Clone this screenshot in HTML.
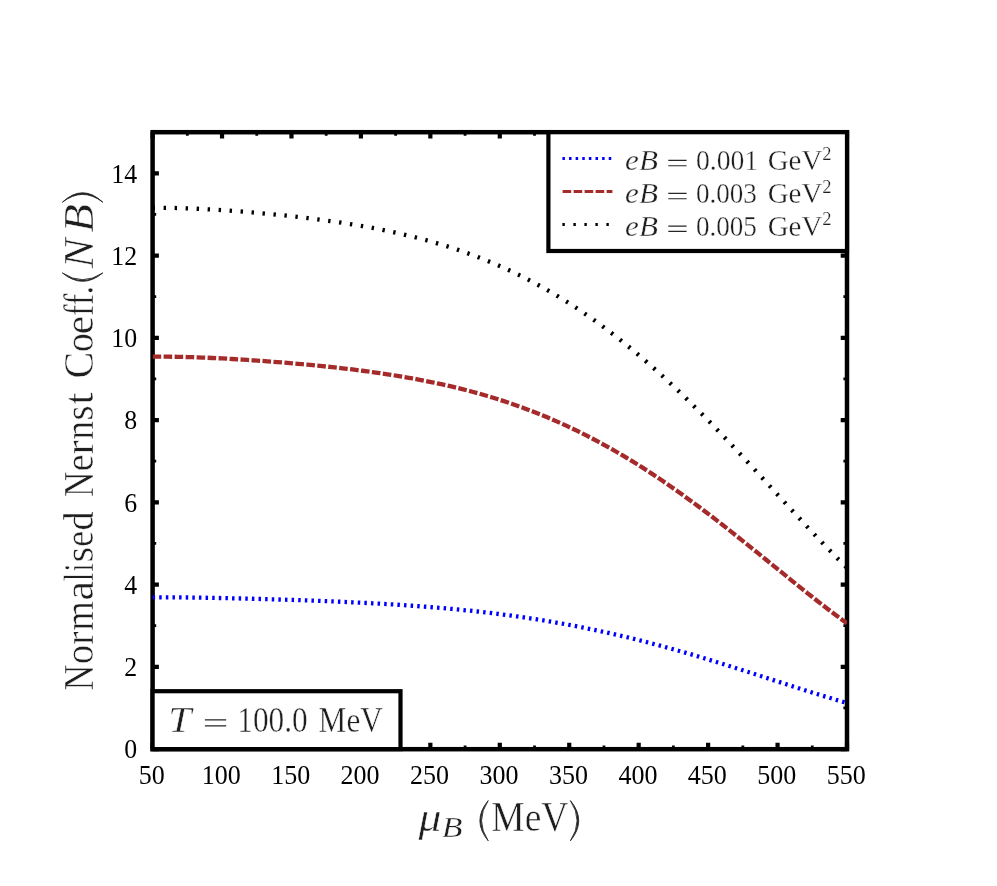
<!DOCTYPE html>
<html><head><meta charset="utf-8"><title>Normalised Nernst Coefficient</title>
<style>html,body{margin:0;padding:0;background:#fff}body{width:997px;height:886px;overflow:hidden}svg{display:block;will-change:transform}text{font-family:"Liberation Serif",serif}.tk{font-size:25.7px;fill:#000}.tx{fill:#1e1e1e;stroke:#fff}.it{font-style:italic}</style></head><body>
<svg width="997" height="886" viewBox="0 0 997 886">
<rect width="997" height="886" fill="#fff"/>
<defs><clipPath id="ax"><rect x="152.60" y="132.20" width="694.40" height="616.90"/></clipPath></defs>
<path d="M152.60 749.10v-6.30 M152.60 132.20v6.30 M222.04 749.10v-6.30 M222.04 132.20v6.30 M291.48 749.10v-6.30 M291.48 132.20v6.30 M360.92 749.10v-6.30 M360.92 132.20v6.30 M430.36 749.10v-6.30 M430.36 132.20v6.30 M499.80 749.10v-6.30 M499.80 132.20v6.30 M569.24 749.10v-6.30 M569.24 132.20v6.30 M638.68 749.10v-6.30 M638.68 132.20v6.30 M708.12 749.10v-6.30 M708.12 132.20v6.30 M777.56 749.10v-6.30 M777.56 132.20v6.30 M847.00 749.10v-6.30 M847.00 132.20v6.30 M152.60 749.10h6.30 M847.00 749.10h-6.30 M152.60 666.85h6.30 M847.00 666.85h-6.30 M152.60 584.59h6.30 M847.00 584.59h-6.30 M152.60 502.34h6.30 M847.00 502.34h-6.30 M152.60 420.09h6.30 M847.00 420.09h-6.30 M152.60 337.83h6.30 M847.00 337.83h-6.30 M152.60 255.58h6.30 M847.00 255.58h-6.30 M152.60 173.33h6.30 M847.00 173.33h-6.30" stroke="#000" stroke-width="4.20" fill="none"/>
<path d="M187.32 749.10v-3.60 M187.32 132.20v3.60 M256.76 749.10v-3.60 M256.76 132.20v3.60 M326.20 749.10v-3.60 M326.20 132.20v3.60 M395.64 749.10v-3.60 M395.64 132.20v3.60 M465.08 749.10v-3.60 M465.08 132.20v3.60 M534.52 749.10v-3.60 M534.52 132.20v3.60 M603.96 749.10v-3.60 M603.96 132.20v3.60 M673.40 749.10v-3.60 M673.40 132.20v3.60 M742.84 749.10v-3.60 M742.84 132.20v3.60 M812.28 749.10v-3.60 M812.28 132.20v3.60 M152.60 707.97h3.60 M847.00 707.97h-3.60 M152.60 625.72h3.60 M847.00 625.72h-3.60 M152.60 543.47h3.60 M847.00 543.47h-3.60 M152.60 461.21h3.60 M847.00 461.21h-3.60 M152.60 378.96h3.60 M847.00 378.96h-3.60 M152.60 296.71h3.60 M847.00 296.71h-3.60 M152.60 214.45h3.60 M847.00 214.45h-3.60" stroke="#000" stroke-width="2.80" fill="none"/>
<rect x="152.60" y="132.20" width="694.40" height="617.00" fill="none" stroke="#000" stroke-width="4.50"/>
<g clip-path="url(#ax)" fill="none" stroke-width="4.30">
<path d="M152.60 597.30 L157.60 597.30 L162.59 597.31 L167.59 597.32 L172.58 597.35 L177.58 597.39 L182.57 597.44 L187.57 597.49 L192.57 597.56 L197.56 597.63 L202.56 597.70 L207.55 597.79 L212.55 597.88 L217.54 597.97 L222.54 598.07 L227.54 598.18 L232.53 598.29 L237.53 598.40 L242.52 598.52 L247.52 598.64 L252.51 598.77 L257.51 598.90 L262.51 599.04 L267.50 599.18 L272.50 599.33 L277.49 599.47 L282.49 599.63 L287.48 599.78 L292.48 599.95 L297.47 600.11 L302.47 600.28 L307.47 600.46 L312.46 600.64 L317.46 600.82 L322.45 601.01 L327.45 601.21 L332.44 601.41 L337.44 601.62 L342.44 601.84 L347.43 602.06 L352.43 602.29 L357.42 602.53 L362.42 602.77 L367.41 603.02 L372.41 603.29 L377.41 603.56 L382.40 603.84 L387.40 604.12 L392.39 604.42 L397.39 604.73 L402.38 605.06 L407.38 605.39 L412.38 605.73 L417.37 606.09 L422.37 606.46 L427.36 606.84 L432.36 607.24 L437.35 607.65 L442.35 608.07 L447.35 608.51 L452.34 608.97 L457.34 609.44 L462.33 609.92 L467.33 610.43 L472.32 610.95 L477.32 611.49 L482.32 612.04 L487.31 612.62 L492.31 613.21 L497.30 613.82 L502.30 614.45 L507.29 615.10 L512.29 615.77 L517.28 616.46 L522.28 617.17 L527.28 617.91 L532.27 618.66 L537.27 619.44 L542.26 620.23 L547.26 621.05 L552.25 621.90 L557.25 622.76 L562.25 623.65 L567.24 624.56 L572.24 625.49 L577.23 626.45 L582.23 627.43 L587.22 628.43 L592.22 629.45 L597.22 630.50 L602.21 631.57 L607.21 632.67 L612.20 633.79 L617.20 634.93 L622.19 636.10 L627.19 637.28 L632.19 638.49 L637.18 639.73 L642.18 640.98 L647.17 642.26 L652.17 643.56 L657.16 644.88 L662.16 646.22 L667.16 647.58 L672.15 648.96 L677.15 650.36 L682.14 651.78 L687.14 653.21 L692.13 654.67 L697.13 656.14 L702.13 657.63 L707.12 659.13 L712.12 660.65 L717.11 662.19 L722.11 663.73 L727.10 665.29 L732.10 666.86 L737.09 668.44 L742.09 670.02 L747.09 671.62 L752.08 673.22 L757.08 674.83 L762.07 676.44 L767.07 678.06 L772.06 679.67 L777.06 681.29 L782.06 682.90 L787.05 684.51 L792.05 686.12 L797.04 687.72 L802.04 689.31 L807.03 690.90 L812.03 692.47 L817.03 694.02 L822.02 695.56 L827.02 697.09 L832.01 698.59 L837.01 700.07 L842.00 701.53 L847.00 702.96" stroke="#0000ff" stroke-dasharray="2.5 4.12"/>
<path d="M152.60 356.69 L157.60 356.66 L162.59 356.65 L167.59 356.68 L172.58 356.73 L177.58 356.81 L182.57 356.92 L187.57 357.04 L192.57 357.19 L197.56 357.36 L202.56 357.55 L207.55 357.76 L212.55 357.98 L217.54 358.22 L222.54 358.47 L227.54 358.74 L232.53 359.02 L237.53 359.32 L242.52 359.62 L247.52 359.94 L252.51 360.28 L257.51 360.62 L262.51 360.98 L267.50 361.34 L272.50 361.72 L277.49 362.11 L282.49 362.51 L287.48 362.92 L292.48 363.35 L297.47 363.78 L302.47 364.23 L307.47 364.69 L312.46 365.16 L317.46 365.65 L322.45 366.15 L327.45 366.67 L332.44 367.20 L337.44 367.75 L342.44 368.31 L347.43 368.89 L352.43 369.49 L357.42 370.11 L362.42 370.75 L367.41 371.41 L372.41 372.09 L377.41 372.79 L382.40 373.52 L387.40 374.27 L392.39 375.04 L397.39 375.85 L402.38 376.68 L407.38 377.54 L412.38 378.42 L417.37 379.34 L422.37 380.29 L427.36 381.27 L432.36 382.29 L437.35 383.34 L442.35 384.43 L447.35 385.55 L452.34 386.71 L457.34 387.92 L462.33 389.16 L467.33 390.44 L472.32 391.76 L477.32 393.13 L482.32 394.54 L487.31 396.00 L492.31 397.50 L497.30 399.06 L502.30 400.65 L507.29 402.30 L512.29 404.00 L517.28 405.75 L522.28 407.55 L527.28 409.40 L532.27 411.30 L537.27 413.26 L542.26 415.27 L547.26 417.34 L552.25 419.46 L557.25 421.64 L562.25 423.88 L567.24 426.17 L572.24 428.52 L577.23 430.92 L582.23 433.38 L587.22 435.91 L592.22 438.48 L597.22 441.12 L602.21 443.82 L607.21 446.57 L612.20 449.38 L617.20 452.25 L622.19 455.18 L627.19 458.16 L632.19 461.20 L637.18 464.29 L642.18 467.44 L647.17 470.65 L652.17 473.91 L657.16 477.22 L662.16 480.58 L667.16 484.00 L672.15 487.46 L677.15 490.98 L682.14 494.54 L687.14 498.14 L692.13 501.79 L697.13 505.49 L702.13 509.22 L707.12 513.00 L712.12 516.81 L717.11 520.66 L722.11 524.54 L727.10 528.45 L732.10 532.38 L737.09 536.35 L742.09 540.33 L747.09 544.34 L752.08 548.37 L757.08 552.41 L762.07 556.46 L767.07 560.51 L772.06 564.58 L777.06 568.64 L782.06 572.70 L787.05 576.75 L792.05 580.80 L797.04 584.83 L802.04 588.83 L807.03 592.82 L812.03 596.78 L817.03 600.70 L822.02 604.59 L827.02 608.43 L832.01 612.23 L837.01 615.97 L842.00 619.65 L847.00 623.27" stroke="#a52a2a" stroke-dasharray="8.6 2.4"/>
<path d="M152.60 207.74 L157.60 207.74 L162.59 207.77 L167.59 207.83 L172.58 207.92 L177.58 208.04 L182.57 208.18 L187.57 208.36 L192.57 208.55 L197.56 208.77 L202.56 209.02 L207.55 209.28 L212.55 209.56 L217.54 209.86 L222.54 210.18 L227.54 210.52 L232.53 210.87 L237.53 211.24 L242.52 211.62 L247.52 212.02 L252.51 212.44 L257.51 212.87 L262.51 213.32 L267.50 213.78 L272.50 214.26 L277.49 214.76 L282.49 215.27 L287.48 215.79 L292.48 216.34 L297.47 216.90 L302.47 217.48 L307.47 218.08 L312.46 218.70 L317.46 219.33 L322.45 219.99 L327.45 220.67 L332.44 221.37 L337.44 222.10 L342.44 222.85 L347.43 223.63 L352.43 224.43 L357.42 225.26 L362.42 226.12 L367.41 227.01 L372.41 227.93 L377.41 228.88 L382.40 229.87 L387.40 230.89 L392.39 231.95 L397.39 233.05 L402.38 234.18 L407.38 235.36 L412.38 236.58 L417.37 237.84 L422.37 239.14 L427.36 240.49 L432.36 241.89 L437.35 243.33 L442.35 244.83 L447.35 246.38 L452.34 247.98 L457.34 249.63 L462.33 251.34 L467.33 253.11 L472.32 254.93 L477.32 256.81 L482.32 258.75 L487.31 260.76 L492.31 262.83 L497.30 264.96 L502.30 267.15 L507.29 269.41 L512.29 271.74 L517.28 274.14 L522.28 276.61 L527.28 279.14 L532.27 281.75 L537.27 284.43 L542.26 287.18 L547.26 290.01 L552.25 292.91 L557.25 295.88 L562.25 298.93 L567.24 302.05 L572.24 305.25 L577.23 308.52 L582.23 311.88 L587.22 315.30 L592.22 318.81 L597.22 322.39 L602.21 326.05 L607.21 329.78 L612.20 333.59 L617.20 337.47 L622.19 341.44 L627.19 345.47 L632.19 349.58 L637.18 353.76 L642.18 358.02 L647.17 362.35 L652.17 366.74 L657.16 371.21 L662.16 375.75 L667.16 380.35 L672.15 385.02 L677.15 389.75 L682.14 394.54 L687.14 399.39 L692.13 404.30 L697.13 409.27 L702.13 414.29 L707.12 419.36 L712.12 424.48 L717.11 429.65 L722.11 434.86 L727.10 440.11 L732.10 445.40 L737.09 450.72 L742.09 456.07 L747.09 461.45 L752.08 466.86 L757.08 472.28 L762.07 477.72 L767.07 483.17 L772.06 488.62 L777.06 494.08 L782.06 499.53 L787.05 504.98 L792.05 510.42 L797.04 515.84 L802.04 521.23 L807.03 526.60 L812.03 531.93 L817.03 537.22 L822.02 542.47 L827.02 547.66 L832.01 552.80 L837.01 557.86 L842.00 562.86 L847.00 567.77" stroke="#000" stroke-dasharray="2.4 8.61"/>
</g>
<rect x="548.40" y="132.20" width="298.60" height="118.80" fill="#fff" stroke="#000" stroke-width="4.20"/>
<rect x="152.60" y="691.20" width="247.90" height="57.90" fill="#fff" stroke="#000" stroke-width="4.20"/>
<g fill="none" stroke-width="3.00">
<path d="M562.4 158.6H611.6" stroke="#0000ff" stroke-dasharray="2.5 4.12"/>
<path d="M562.6 191.5H612.4" stroke="#a52a2a" stroke-dasharray="8.6 2.4"/>
<path d="M562.4 224.6H611.6" stroke="#000" stroke-dasharray="2.4 8.6"/>
</g>
<text x="625.14" y="170.00" font-size="29.50" stroke-width="0.34" textLength="32.86" lengthAdjust="spacingAndGlyphs" class="tx it">eB</text>
<text x="695.97" y="170.00" font-size="29.50" stroke-width="0.34" textLength="62.20" lengthAdjust="spacingAndGlyphs" class="tx">0.001</text>
<text x="767.73" y="170.00" font-size="29.50" stroke-width="0.34" textLength="54.64" lengthAdjust="spacingAndGlyphs" class="tx">GeV</text>
<text x="822.22" y="159.50" font-size="18.40" stroke-width="0.21" textLength="9.26" lengthAdjust="spacingAndGlyphs" class="tx">2</text>
<text x="625.14" y="203.00" font-size="29.50" stroke-width="0.34" textLength="32.86" lengthAdjust="spacingAndGlyphs" class="tx it">eB</text>
<text x="695.98" y="203.00" font-size="29.50" stroke-width="0.34" textLength="60.93" lengthAdjust="spacingAndGlyphs" class="tx">0.003</text>
<text x="767.73" y="203.00" font-size="29.50" stroke-width="0.34" textLength="54.64" lengthAdjust="spacingAndGlyphs" class="tx">GeV</text>
<text x="822.22" y="192.50" font-size="18.40" stroke-width="0.21" textLength="9.26" lengthAdjust="spacingAndGlyphs" class="tx">2</text>
<text x="625.14" y="235.70" font-size="29.50" stroke-width="0.34" textLength="32.86" lengthAdjust="spacingAndGlyphs" class="tx it">eB</text>
<text x="695.98" y="235.70" font-size="29.50" stroke-width="0.34" textLength="60.93" lengthAdjust="spacingAndGlyphs" class="tx">0.005</text>
<text x="767.73" y="235.70" font-size="29.50" stroke-width="0.34" textLength="54.64" lengthAdjust="spacingAndGlyphs" class="tx">GeV</text>
<text x="822.22" y="225.20" font-size="18.40" stroke-width="0.21" textLength="9.26" lengthAdjust="spacingAndGlyphs" class="tx">2</text>
<text x="168.21" y="731.50" font-size="35.00" stroke-width="0.40" textLength="23.04" lengthAdjust="spacingAndGlyphs" class="tx it">T</text>
<text x="237.25" y="731.50" font-size="35.00" stroke-width="0.40" textLength="70.43" lengthAdjust="spacingAndGlyphs" class="tx">100.0</text>
<text x="318.61" y="731.50" font-size="35.00" stroke-width="0.40" textLength="64.20" lengthAdjust="spacingAndGlyphs" class="tx">MeV</text>
<text x="418.57" y="831.30" font-size="43.00" stroke-width="0.49" textLength="23.00" lengthAdjust="spacingAndGlyphs" class="tx it">μ</text>
<text x="441.73" y="836.80" font-size="29.90" stroke-width="0.34" textLength="20.72" lengthAdjust="spacingAndGlyphs" class="tx it">B</text>
<text x="491.27" y="831.30" font-size="43.00" stroke-width="0.49" textLength="77.11" lengthAdjust="spacingAndGlyphs" class="tx">MeV</text>
<path d="M668.30 160.40H686.60 M668.30 165.70H686.60" stroke="#262626" stroke-width="1.15" fill="none"/>
<path d="M668.30 193.40H686.60 M668.30 198.70H686.60" stroke="#262626" stroke-width="1.15" fill="none"/>
<path d="M668.30 226.10H686.60 M668.30 231.40H686.60" stroke="#262626" stroke-width="1.15" fill="none"/>
<path d="M204.90 719.90H226.20 M204.90 725.90H226.20" stroke="#262626" stroke-width="1.40" fill="none"/>
<path d="M488.20 800.60Q471.60 820.70 488.20 840.80Q474.80 820.70 488.20 800.60Z" fill="#262626" stroke="#262626" stroke-width="0.9" stroke-linejoin="round"/>
<path d="M570.40 800.60Q587.00 820.70 570.40 840.80Q583.80 820.70 570.40 800.60Z" fill="#262626" stroke="#262626" stroke-width="0.9" stroke-linejoin="round"/>
<text transform="translate(151.80 784.2) scale(1.012 1.085)" text-anchor="middle" class="tk">50</text>
<text transform="translate(221.24 784.2) scale(1.012 1.085)" text-anchor="middle" class="tk">100</text>
<text transform="translate(290.68 784.2) scale(1.012 1.085)" text-anchor="middle" class="tk">150</text>
<text transform="translate(360.12 784.2) scale(1.012 1.085)" text-anchor="middle" class="tk">200</text>
<text transform="translate(429.56 784.2) scale(1.012 1.085)" text-anchor="middle" class="tk">250</text>
<text transform="translate(499.00 784.2) scale(1.012 1.085)" text-anchor="middle" class="tk">300</text>
<text transform="translate(568.44 784.2) scale(1.012 1.085)" text-anchor="middle" class="tk">350</text>
<text transform="translate(637.88 784.2) scale(1.012 1.085)" text-anchor="middle" class="tk">400</text>
<text transform="translate(707.32 784.2) scale(1.012 1.085)" text-anchor="middle" class="tk">450</text>
<text transform="translate(776.76 784.2) scale(1.012 1.085)" text-anchor="middle" class="tk">500</text>
<text transform="translate(846.20 784.2) scale(1.012 1.085)" text-anchor="middle" class="tk">550</text>
<text transform="translate(137.1 758.35) scale(1.005 1.085)" text-anchor="end" class="tk">0</text>
<text transform="translate(137.1 676.10) scale(1.005 1.085)" text-anchor="end" class="tk">2</text>
<text transform="translate(137.1 593.84) scale(1.005 1.085)" text-anchor="end" class="tk">4</text>
<text transform="translate(137.1 511.59) scale(1.005 1.085)" text-anchor="end" class="tk">6</text>
<text transform="translate(137.1 429.34) scale(1.005 1.085)" text-anchor="end" class="tk">8</text>
<text transform="translate(137.1 347.08) scale(1.005 1.085)" text-anchor="end" class="tk">10</text>
<text transform="translate(137.1 264.83) scale(1.005 1.085)" text-anchor="end" class="tk">12</text>
<text transform="translate(137.1 182.58) scale(1.005 1.085)" text-anchor="end" class="tk">14</text>
<g transform="translate(92.9 0) rotate(-90)">
<text x="-690.50" y="0.00" font-size="42.60" stroke-width="0.49" textLength="25.72" lengthAdjust="spacingAndGlyphs" class="tx">N</text>
<text x="-664.37" y="0.00" font-size="42.60" stroke-width="0.49" textLength="19.53" lengthAdjust="spacingAndGlyphs" class="tx">o</text>
<text x="-644.86" y="0.00" font-size="42.60" stroke-width="0.49" textLength="13.20" lengthAdjust="spacingAndGlyphs" class="tx">r</text>
<text x="-630.64" y="0.00" font-size="42.60" stroke-width="0.49" textLength="29.65" lengthAdjust="spacingAndGlyphs" class="tx">m</text>
<text x="-600.62" y="0.00" font-size="42.60" stroke-width="0.49" textLength="19.55" lengthAdjust="spacingAndGlyphs" class="tx">a</text>
<text x="-581.11" y="0.00" font-size="42.60" stroke-width="0.49" textLength="8.21" lengthAdjust="spacingAndGlyphs" class="tx">l</text>
<text x="-571.73" y="0.00" font-size="42.60" stroke-width="0.49" textLength="8.55" lengthAdjust="spacingAndGlyphs" class="tx">i</text>
<text x="-562.60" y="0.00" font-size="42.60" stroke-width="0.49" textLength="15.64" lengthAdjust="spacingAndGlyphs" class="tx">s</text>
<text x="-547.09" y="0.00" font-size="42.60" stroke-width="0.49" textLength="16.24" lengthAdjust="spacingAndGlyphs" class="tx">e</text>
<text x="-530.54" y="0.00" font-size="42.60" stroke-width="0.49" textLength="19.08" lengthAdjust="spacingAndGlyphs" class="tx">d</text>
<text x="-496.89" y="0.00" font-size="42.60" stroke-width="0.49" textLength="25.41" lengthAdjust="spacingAndGlyphs" class="tx">N</text>
<text x="-471.22" y="0.00" font-size="42.60" stroke-width="0.49" textLength="16.69" lengthAdjust="spacingAndGlyphs" class="tx">e</text>
<text x="-454.40" y="0.00" font-size="42.60" stroke-width="0.49" textLength="14.06" lengthAdjust="spacingAndGlyphs" class="tx">r</text>
<text x="-439.63" y="0.00" font-size="42.60" stroke-width="0.49" textLength="18.88" lengthAdjust="spacingAndGlyphs" class="tx">n</text>
<text x="-420.45" y="0.00" font-size="42.60" stroke-width="0.49" textLength="15.05" lengthAdjust="spacingAndGlyphs" class="tx">s</text>
<text x="-404.54" y="0.00" font-size="42.60" stroke-width="0.49" textLength="12.04" lengthAdjust="spacingAndGlyphs" class="tx">t</text>
<text x="-378.40" y="0.00" font-size="42.60" stroke-width="0.49" textLength="26.84" lengthAdjust="spacingAndGlyphs" class="tx">C</text>
<text x="-352.14" y="0.00" font-size="42.60" stroke-width="0.49" textLength="19.19" lengthAdjust="spacingAndGlyphs" class="tx">o</text>
<text x="-334.25" y="0.00" font-size="42.60" stroke-width="0.49" textLength="18.51" lengthAdjust="spacingAndGlyphs" class="tx">e</text>
<text x="-315.98" y="0.00" font-size="42.60" stroke-width="0.49" textLength="22.16" lengthAdjust="spacingAndGlyphs" class="tx">ff</text>
<text x="-294.44" y="0.00" font-size="42.60" stroke-width="0.49" textLength="8.78" lengthAdjust="spacingAndGlyphs" class="tx">.</text>
<text x="-268.24" y="0.00" font-size="42.60" stroke-width="0.49" textLength="29.96" lengthAdjust="spacingAndGlyphs" class="tx it">N</text>
<text x="-232.54" y="0.00" font-size="42.60" stroke-width="0.49" textLength="28.49" lengthAdjust="spacingAndGlyphs" class="tx it">B</text>
<path d="M-272.90 -30.50Q-289.70 -10.30 -272.90 9.90Q-286.50 -10.30 -272.90 -30.50Z" fill="#262626" stroke="#262626" stroke-width="0.9" stroke-linejoin="round"/>
<path d="M-202.20 -30.50Q-183.40 -10.30 -202.20 9.90Q-186.60 -10.30 -202.20 -30.50Z" fill="#262626" stroke="#262626" stroke-width="0.9" stroke-linejoin="round"/>
</g>
</svg></body></html>
